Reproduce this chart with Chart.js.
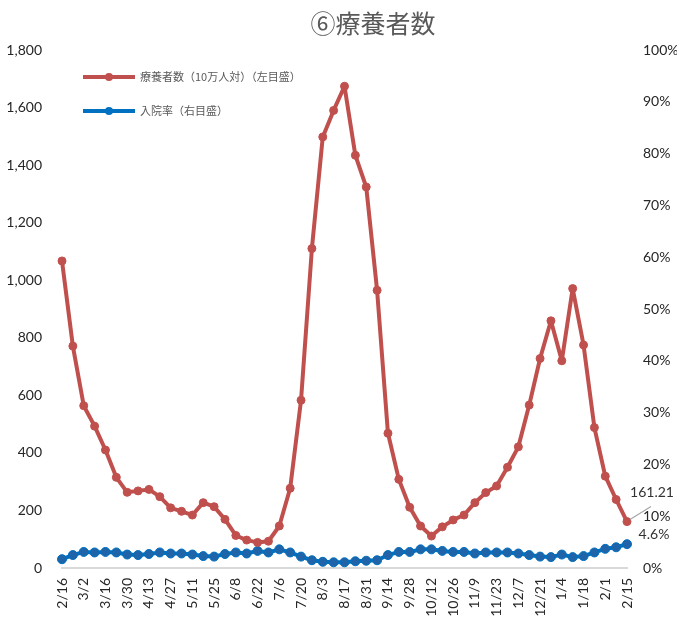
<!DOCTYPE html>
<html>
<head>
<meta charset="utf-8">
<script src="https://cdn.jsdelivr.net/npm/chart.js@4/dist/chart.umd.min.js"></script>
<style>
  html, body { margin: 0; padding: 0; background: #fff; }
  #wrap { width: 677px; height: 620px; }
</style>
</head>
<body>
<div id="wrap"><canvas id="chart" width="677" height="620"></canvas></div>
<script>
// weekly dates (every other one is shown on the axis)
let weeks = ['2/16', '2/23', '3/2', '3/9', '3/16', '3/23', '3/30', '4/6', '4/13', '4/20',
    '4/27', '5/4', '5/11', '5/18', '5/25', '6/1', '6/8', '6/15', '6/22', '6/29',
    '7/6', '7/13', '7/20', '7/27', '8/3', '8/10', '8/17', '8/24', '8/31', '9/7',
    '9/14', '9/21', '9/28', '10/5', '10/12', '10/19', '10/26', '11/2', '11/9', '11/16',
    '11/23', '11/30', '12/7', '12/14', '12/21', '12/28', '1/4', '1/11', '1/18', '1/25',
    '2/1', '2/8', '2/15']

// 療養者数（10万人対） left axis
let ryoyosha = [1067, 771, 564, 493, 410, 315, 263, 268, 273, 248,
    209, 197, 184, 227, 213, 169, 113, 97, 89, 93,
    146, 277, 583, 1110, 1498, 1590, 1674, 1434, 1324, 965,
    468, 308, 211, 146, 111, 143, 167, 184, 227, 262,
    285, 350, 421, 566, 728, 859, 720, 971, 775, 488,
    319, 238, 161.21]

// 入院率 (%) right axis
let nyuinritsu = [1.7, 2.5, 3.1, 3.0, 3.1, 3.0, 2.6, 2.5, 2.7, 3.0,
    2.8, 2.8, 2.6, 2.3, 2.2, 2.7, 3.0, 2.8, 3.3, 3.0,
    3.6, 3.0, 2.2, 1.5, 1.2, 1.1, 1.1, 1.3, 1.4, 1.5,
    2.5, 3.1, 3.1, 3.6, 3.6, 3.3, 3.1, 3.1, 2.8, 3.0,
    3.0, 3.0, 2.8, 2.5, 2.2, 2.1, 2.6, 2.1, 2.3, 3.0,
    3.7, 4.0, 4.6]

let titleText = '⑥療養者数'
let seriesNames = ['療養者数（10万人対）（左目盛）', '入院率（右目盛）']

let red = '#C0504D'
let blue = '#0070C0'
let textGray = '#595959'
let tickFont = { family: 'Lato', size: 14 }
let jpFont = "'Noto Sans CJK JP'"

// title, in-plot legend and the end labels
let decorations = {
    id: 'decorations',
    afterDraw(chart) {
        let ctx = chart.ctx
        ctx.save()

        ctx.fillStyle = textGray
        ctx.font = '25px ' + jpFont
        ctx.textAlign = 'center'
        ctx.textBaseline = 'middle'
        ctx.fillText(titleText, 373, 23)

        let colors = [red, blue]
        let rows = [77, 111]
        ctx.font = '11px ' + jpFont
        ctx.textAlign = 'left'
        for (let i = 0; i < 2; i++) {
            ctx.strokeStyle = colors[i]
            ctx.lineWidth = 4
            ctx.beginPath()
            ctx.moveTo(83, rows[i])
            ctx.lineTo(135, rows[i])
            ctx.stroke()
            ctx.fillStyle = colors[i]
            ctx.beginPath()
            ctx.arc(109, rows[i], 4, 0, Math.PI * 2)
            ctx.fill()
            ctx.fillStyle = textGray
            ctx.fillText(seriesNames[i], 140, rows[i])
        }

        let last = weeks.length - 1
        let pRed = chart.getDatasetMeta(0).data[last]
        let pBlue = chart.getDatasetMeta(1).data[last]
        ctx.strokeStyle = '#a6a6a6'
        ctx.lineWidth = 1.2
        ctx.beginPath()
        ctx.moveTo(pRed.x + 3, pRed.y - 2)
        ctx.lineTo(pRed.x + 24, pRed.y - 15)
        ctx.stroke()

        ctx.fillStyle = '#333'
        ctx.font = '14px Lato'
        ctx.textAlign = 'center'
        ctx.fillText(ryoyosha[last].toFixed(2), pRed.x + 25, pRed.y - 29)
        ctx.fillText(nyuinritsu[last].toFixed(1) + '%', pBlue.x + 27, pBlue.y - 10)
        ctx.restore()
    }
}

new Chart(document.getElementById('chart'), {
    type: 'line',
    data: {
        labels: weeks,
        datasets: [{
            label: seriesNames[0],
            data: ryoyosha,
            yAxisID: 'y',
            borderColor: red,
            backgroundColor: red,
            pointBackgroundColor: red,
            pointBorderColor: red,
            borderWidth: 4,
            borderJoinStyle: 'round',
            borderCapStyle: 'round',
            pointRadius: 4,
            pointBorderWidth: 1,
            tension: 0
        }, {
            label: seriesNames[1],
            data: nyuinritsu,
            yAxisID: 'y1',
            borderColor: blue,
            backgroundColor: blue,
            pointBackgroundColor: '#1f64a8',
            pointBorderColor: blue,
            borderWidth: 4,
            borderJoinStyle: 'round',
            borderCapStyle: 'round',
            pointRadius: 4.5,
            pointBorderWidth: 1,
            tension: 0
        }]
    },
    options: {
        responsive: false,
        animation: false,
        layout: { padding: { top: 50, left: 0, right: 0, bottom: 0 } },
        plugins: {
            legend: { display: false },
            title: { display: false },
            tooltip: { enabled: false }
        },
        scales: {
            x: {
                offset: false,
                grid: { display: false },
                border: { display: true, color: '#d9d9d9', width: 2 },
                ticks: {
                    autoSkip: false,
                    minRotation: 90,
                    maxRotation: 90,
                    padding: 2,
                    color: '#262626',
                    font: tickFont,
                    callback: (v, i) => i % 2 === 0 ? weeks[i] : ''
                },
                afterFit: s => { s.height = 52 }
            },
            y: {
                position: 'left',
                min: 0,
                max: 1800,
                grid: { display: false },
                border: { display: false },
                ticks: {
                    stepSize: 200,
                    padding: 12,
                    color: '#262626',
                    font: tickFont,
                    callback: v => v.toLocaleString('en-US')
                },
                afterFit: s => { s.width = 62 }
            },
            y1: {
                position: 'right',
                min: 0,
                max: 100,
                grid: { display: false },
                border: { display: false },
                ticks: {
                    stepSize: 10,
                    padding: 8,
                    color: '#262626',
                    font: tickFont,
                    callback: v => v + '%'
                },
                afterFit: s => { s.width = 50 }
            }
        }
    },
    plugins: [decorations]
})
</script>
</body>
</html>
